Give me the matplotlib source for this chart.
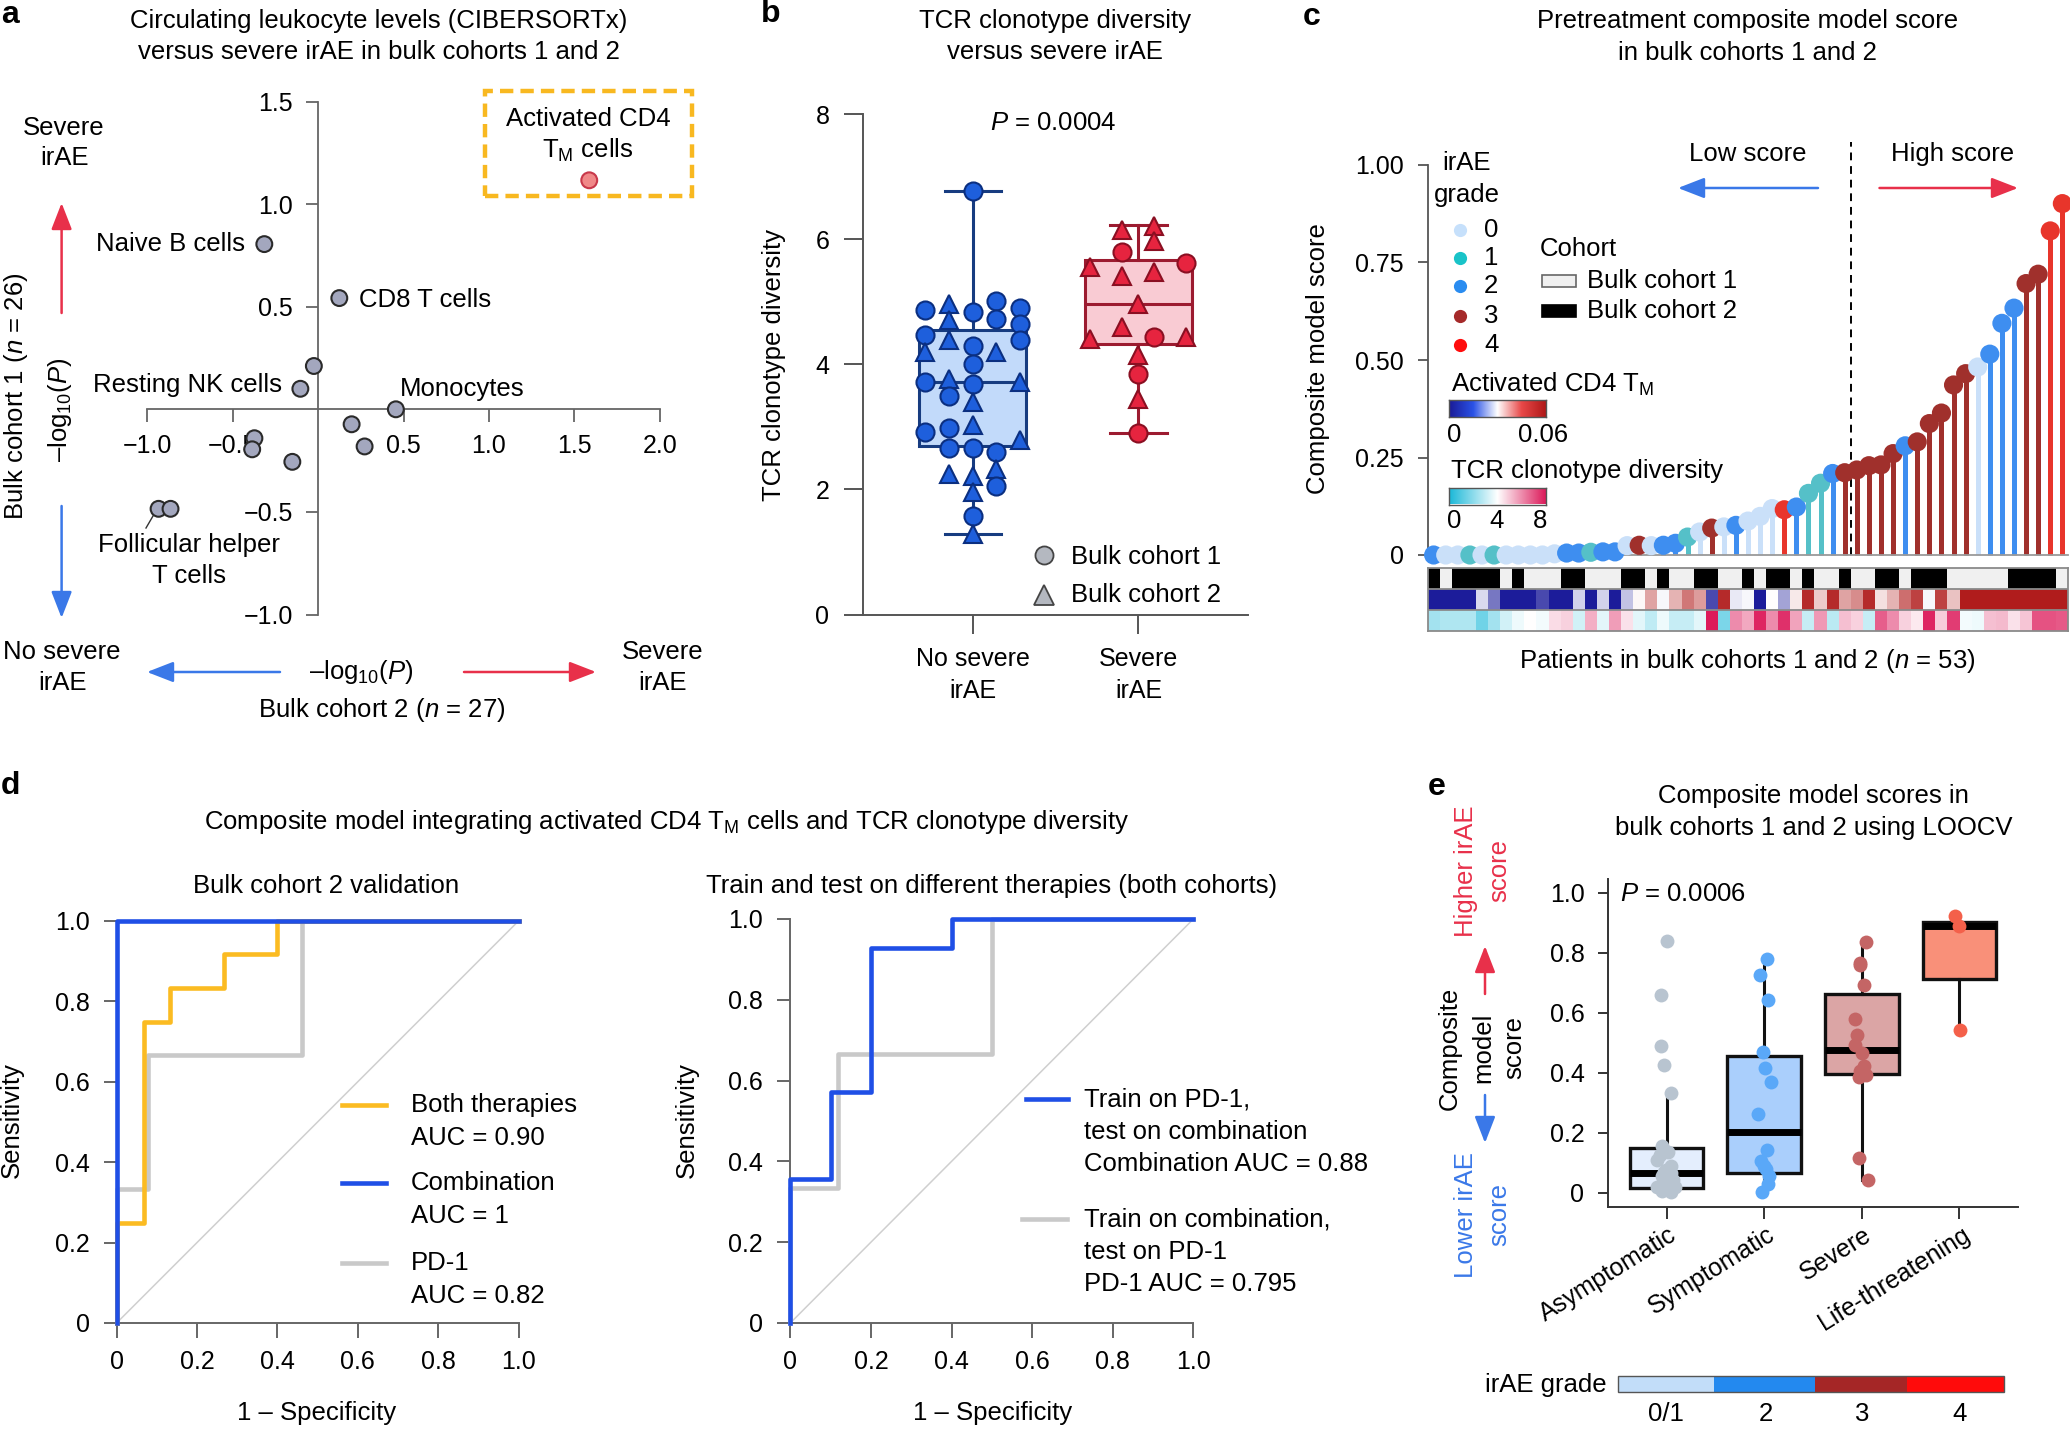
import numpy as np
import matplotlib
matplotlib.use('Agg')
import matplotlib.pyplot as plt
from matplotlib.transforms import Affine2D, ScaledTranslation
from matplotlib.patches import Rectangle, FancyArrowPatch
from matplotlib.lines import Line2D
from matplotlib.colors import ListedColormap, LinearSegmentedColormap

plt.rcParams['font.family'] = ['Liberation Sans', 'DejaVu Sans']
plt.rcParams['mathtext.fontset'] = 'custom'
plt.rcParams['mathtext.rm'] = 'Liberation Sans'
plt.rcParams['mathtext.it'] = 'Liberation Sans:italic'
plt.rcParams['mathtext.bf'] = 'Liberation Sans:bold'

# ---------------- DATA ----------------
# panel a
a_labels = ['Activated CD4 TM cells', 'Naive B cells', 'CD8 T cells', '', 'Resting NK cells', 'Monocytes',
            '', '', '', '', '', 'Follicular helper T cells', 'Follicular helper T cells']
a_cohort2 = [1.587, -0.315, 0.124, -0.025, -0.104, 0.455, 0.196, 0.272, -0.373, -0.386, -0.151, -0.934, -0.864]
a_cohort1 = [1.116, 0.805, 0.542, 0.211, 0.100, 0.0, -0.073, -0.181, -0.141, -0.195, -0.256, -0.485, -0.485]
a_xticks = [-1.0, -0.5, 0.5, 1.0, 1.5, 2.0]
a_yticks = [-1.0, -0.5, 0.5, 1.0, 1.5]

# panel b
b_groups = ['No severe\nirAE', 'Severe\nirAE']
b_nosev_vals = [6.77, 4.86, 4.97, 4.84, 5.01, 4.90, 4.70, 4.72, 4.64, 4.46, 4.39, 4.39, 4.29, 4.19, 4.19, 4.00,
                3.71, 3.76, 3.68, 3.71, 3.50, 3.39, 3.03, 2.92, 2.98, 2.79, 2.66, 2.66, 2.60, 2.25, 2.21, 2.33,
                2.05, 1.96, 1.58, 1.29]
b_nosev_cohort = [1, 1, 2, 1, 1, 1, 2, 1, 1, 1, 2, 1, 1, 2, 2, 1, 1, 2, 1, 2, 1, 2, 2, 1, 1, 2, 1, 1, 1, 2, 2, 2,
                  1, 2, 1, 2]
b_nosev_jit = [0, -0.29, -0.145, 0, 0.141, 0.288, -0.145, 0.141, 0.288, -0.29, -0.145, 0.288, 0, -0.29, 0.141, 0,
               -0.29, -0.145, 0, 0.288, -0.145, 0, 0, -0.29, -0.145, 0.288, -0.145, 0, 0.141, -0.145, 0, 0.141,
               0.141, 0, 0, 0]
b_sev_vals = [6.15, 6.21, 5.97, 5.80, 5.62, 5.56, 5.41, 5.48, 4.96, 4.59, 4.41, 4.43, 4.44, 4.15, 3.85, 3.44, 2.90]
b_sev_cohort = [2, 2, 2, 1, 1, 2, 2, 2, 2, 2, 2, 1, 2, 2, 1, 2, 1]
b_sev_jit = [-0.1, 0.096, 0.096, -0.1, 0.286, -0.29, -0.1, 0.096, 0, -0.1, -0.29, 0.096, 0.286, 0, 0, 0, 0]
b_q1 = [2.70, 4.33]
b_med = [3.71, 4.97]
b_q3 = [4.54, 5.67]
b_lo = [1.29, 2.90]
b_hi = [6.77, 6.22]

# panel c
c_score = [0.0, 0.0, 0.0, 0.0, 0.0, 0.0, 0.0, 0.0, 0.0, 0.0, 0.003, 0.005, 0.005, 0.007, 0.008, 0.008, 0.024,
           0.025, 0.024, 0.025, 0.03, 0.046, 0.059, 0.069, 0.072, 0.076, 0.087, 0.099, 0.119, 0.116, 0.123,
           0.158, 0.184, 0.209, 0.211, 0.218, 0.229, 0.231, 0.26, 0.28, 0.29, 0.337, 0.364, 0.436, 0.465,
           0.482, 0.515, 0.594, 0.633, 0.696, 0.72, 0.831, 0.901]
c_grade = [2, 0, 0, 1, 0, 1, 0, 0, 0, 0, 0, 2, 2, 1, 2, 2, 0, 3, 0, 2, 2, 1, 0, 3, 0, 2, 0, 0, 0, 4, 2, 1, 1, 2,
           3, 3, 3, 3, 3, 2, 3, 3, 3, 3, 3, 0, 2, 2, 2, 3, 3, 4, 4]
c_cohort = [2, 1, 2, 2, 2, 2, 1, 2, 1, 1, 1, 2, 2, 1, 1, 1, 2, 2, 1, 2, 1, 1, 2, 2, 1, 1, 2, 1, 2, 2, 1, 2, 1, 1,
            2, 1, 1, 2, 2, 1, 2, 2, 2, 1, 1, 1, 1, 1, 2, 2, 2, 2, 1]
c_cd4 = [0, 0, 0, 0, 0.025, 0.012, 0, 0, 0, 0.006, 0, 0, 0.024, 0, 0.024, 0, 0.022, 0.031, 0.042, 0.029, 0.040,
         0.048, 0.043, 0.006, 0.058, 0.027, 0.029, 0.0, 0.030, 0.018, 0.033, 0.058, 0.037, 0.058, 0.042, 0.045,
         0.058, 0.034, 0.040, 0.049, 0.055, 0.029, 0.055, 0.038, 0.06, 0.06, 0.06, 0.06, 0.06, 0.06, 0.06, 0.06,
         0.06]
c_tcr = [2.4, 2.6, 2.6, 2.6, 1.5, 2.4, 3.2, 3.7, 4.0, 3.8, 4.6, 4.8, 3.2, 5.4, 3.5, 5.7, 4.5, 3.5, 2.9, 3.7,
         3.0, 3.0, 3.5, 8.0, 1.7, 6.0, 5.5, 7.8, 6.0, 7.6, 5.6, 3.0, 5.8, 2.8, 5.1, 4.8, 3.0, 6.8, 6.0, 4.8,
         4.4, 7.8, 4.9, 7.4, 3.8, 3.7, 5.1, 5.2, 4.5, 5.0, 7.0, 7.0, 6.9]
c_yticks = [0, 0.25, 0.50, 0.75, 1.00]
c_yticklabels = ['0', '0.25', '0.50', '0.75', '1.00']

# panel d
d1_both_fpr = [0, 0, 0.067, 0.067, 0.133, 0.133, 0.267, 0.267, 0.4, 0.4, 1.0]
d1_both_tpr = [0, 0.25, 0.25, 0.75, 0.75, 0.833, 0.833, 0.917, 0.917, 1.0, 1.0]
d1_comb_fpr = [0, 0, 1.0]
d1_comb_tpr = [0, 1.0, 1.0]
d1_pd1_fpr = [0, 0, 0.077, 0.077, 0.462, 0.462, 1.0]
d1_pd1_tpr = [0, 0.333, 0.333, 0.667, 0.667, 1.0, 1.0]
d2_pd1train_fpr = [0, 0, 0.1, 0.1, 0.2, 0.2, 0.4, 0.4, 1.0]
d2_pd1train_tpr = [0, 0.357, 0.357, 0.571, 0.571, 0.929, 0.929, 1.0, 1.0]
d2_combtrain_fpr = [0, 0, 0.118, 0.118, 0.5, 0.5, 1.0]
d2_combtrain_tpr = [0, 0.333, 0.333, 0.667, 0.667, 1.0, 1.0]
d_ticks = [0, 0.2, 0.4, 0.6, 0.8, 1.0]
d_ticklabels = ['0', '0.2', '0.4', '0.6', '0.8', '1.0']

# panel e
e_groups = ['Asymptomatic', 'Symptomatic', 'Severe', 'Life-threatening']
e_asym = [0.839, 0.661, 0.491, 0.427, 0.334, 0.156, 0.128, 0.078, 0.067, 0.057, 0.043, 0.028, 0.014, 0.007,
          0.004, 0.02, 0.02, 0.035, 0.07, 0.09, 0.11, 0.135]
e_asym_jit = [0, -13, -13, -5, 11, -11, -15, -1, 9, -11, 14, -6, 4, -11, 9, -21, 19, 4, -6, 9, -21, 4]
e_symp = [0.78, 0.725, 0.644, 0.469, 0.415, 0.37, 0.263, 0.142, 0.107, 0.081, 0.057, 0.031, 0.004, 0.09]
e_symp_jit = [7, -10, 9, -2, 2, 15, -15, 7, -8, 5, 12, 9, -5, -1]
e_sev = [0.835, 0.768, 0.76, 0.694, 0.579, 0.526, 0.494, 0.465, 0.422, 0.408, 0.394, 0.388, 0.118, 0.043]
e_sev_jit = [10, -3, -5, 5, -15, -10, -15, 0, 5, -5, 10, -7, -7, 13]
e_life = [0.922, 0.889, 0.543]
e_life_jit = [-11, -1, 1]
e_q1 = [0.017, 0.068, 0.398, 0.714]
e_med = [0.068, 0.202, 0.478, 0.889]
e_q3 = [0.149, 0.458, 0.664, 0.903]
e_lo = [0.0, 0.004, 0.043, 0.543]
e_hi = [0.334, 0.78, 0.835, 0.903]
e_grade_labels = ['0/1', '2', '3', '4']
e_yticks = [0, 0.2, 0.4, 0.6, 0.8, 1.0]
e_yticklabels = ['0', '0.2', '0.4', '0.6', '0.8', '1.0']

# ---------------- FIGURE ----------------
W, H = 2070, 1429
FS = 18.5
TFS = 18
fig = plt.figure(figsize=(W / 100, H / 100), dpi=100)
PX = Affine2D().scale(1.0 / W, -1.0 / H).translate(0, 1) + fig.transFigure
RED = '#e8304a'
BLUE = '#3a78e8'
AXC = '#555555'


def ax_px(l, t, r, b):
    return fig.add_axes([l / W, 1 - b / H, (r - l) / W, (b - t) / H])


def txt(x, y, s, **kw):
    kw.setdefault('fontsize', FS)
    kw.setdefault('ha', 'center')
    kw.setdefault('va', 'center')
    return fig.text(x, y, s, transform=PX, **kw)


def arrow(x1, y1, x2, y2, color):
    fig.add_artist(FancyArrowPatch((x1, y1), (x2, y2), transform=PX,
                                   arrowstyle='-|>,head_length=0.9,head_width=0.35',
                                   mutation_scale=18, color=color, lw=1.8, shrinkA=0, shrinkB=0))


# panel labels
for lab, (x, y) in zip('abcde', [(1, 15), (761, 14), (1303, 17), (1, 786), (1428, 787)]):
    txt(x, y, lab, fontsize=23, fontweight='bold', ha='left')

# ================= Panel a =================
axA = ax_px(147.3, 101.5, 659.8, 614.5)
axA.set_xlim(-1, 2)
axA.set_ylim(-1, 1.5)
for s in ['top', 'right']:
    axA.spines[s].set_visible(False)
axA.spines['left'].set_position(('data', 0))
axA.spines['bottom'].set_position(('data', 0))
for s in ['left', 'bottom']:
    axA.spines[s].set_color('#666666')
    axA.spines[s].set_linewidth(1.3)
axA.set_xticks(a_xticks)
axA.set_xticklabels([f'{v:.1f}'.replace('-', '\u2212') for v in a_xticks])
axA.set_yticks(a_yticks)
axA.set_yticklabels([f'{v:.1f}'.replace('-', '\u2212') for v in a_yticks])
axA.tick_params(length=9, width=1.3, color='#666666', labelsize=TFS, pad=9)
acol = ['#f08888'] + ['#a3a7be'] * (len(a_cohort1) - 1)
aedge = ['#c8384a'] + ['#2a2a2a'] * (len(a_cohort1) - 1)
axA.scatter(a_cohort2, a_cohort1, s=130, c=acol, edgecolors=aedge, linewidths=1.5, zorder=4, clip_on=False)
axA.add_patch(Rectangle((0.977, 1.039), 1.213, 0.512, fill=False, ec='#f8b820', lw=3.2, ls=(0, (3, 1.6)),
                        clip_on=False, zorder=3))

txt(379, 21, 'Circulating leukocyte levels (CIBERSORTx)')
txt(379, 52, 'versus severe irAE in bulk cohorts 1 and 2')
txt(588, 119, 'Activated CD4')
txt(588, 150, 'T$_\\mathregular{M}$ cells')
txt(245.5, 244, 'Naive B cells', ha='right')
txt(359, 300, 'CD8 T cells', ha='left')
txt(282, 385, 'Resting NK cells', ha='right')
txt(400, 389, 'Monocytes', ha='left')
txt(189, 545, 'Follicular helper')
txt(189, 576, 'T cells')
fig.add_artist(Line2D([146, 153], [528, 516], transform=PX, color='#333333', lw=1))

txt(64, 128, 'Severe')
txt(64, 158, 'irAE')
arrow(61.6, 313, 61.6, 203, RED)
arrow(61.6, 506, 61.6, 618, BLUE)
txt(15.6, 396, 'Bulk cohort 1 ($n$ = 26)', rotation=90)
txt(60, 410, '\u2013log$_\\mathregular{10}$($P$)', rotation=90)
txt(62, 652, 'No severe')
txt(62, 683, 'irAE')
arrow(280, 672, 147, 672, BLUE)
txt(361, 672, '\u2013log$_\\mathregular{10}$($P$)')
arrow(464, 672, 596, 672, RED)
txt(663, 652, 'Severe')
txt(663, 683, 'irAE')
txt(382, 710, 'Bulk cohort 2 ($n$ = 27)')

# ================= Panel b =================
axB = ax_px(862.8, 114, 1247.5, 614.5)
for s in ['top', 'right']:
    axB.spines[s].set_visible(False)
for s in ['left', 'bottom']:
    axB.spines[s].set_color(AXC)
    axB.spines[s].set_linewidth(1.4)
bstats = [dict(med=b_med[i], q1=b_q1[i], q3=b_q3[i], whislo=b_lo[i], whishi=b_hi[i], fliers=[]) for i in range(2)]
bfill = ['#c2dafa', '#f9cbd3']
bedge = ['#173c80', '#9c1b30']
bp = axB.bxp(bstats, positions=[0, 1], widths=0.648, patch_artist=True, showfliers=False, capwidths=0.34,
             manage_ticks=False)
for i in range(2):
    bp['boxes'][i].set(facecolor=bfill[i], edgecolor=bedge[i], linewidth=2.2, zorder=1)
    bp['medians'][i].set(color=bedge[i], linewidth=2.2)
    for art in bp['whiskers'][2 * i:2 * i + 2] + bp['caps'][2 * i:2 * i + 2]:
        art.set(color=bedge[i], linewidth=2.2)
ptfill = ['#1e5fdc', '#e6243f']
ptedge = ['#0b2f80', '#8a0f22']
for gi, (vals, coh, jit) in enumerate([(b_nosev_vals, b_nosev_cohort, b_nosev_jit),
                                       (b_sev_vals, b_sev_cohort, b_sev_jit)]):
    for v, c, j in zip(vals, coh, jit):
        axB.plot(gi + j, v, marker='o' if c == 1 else '^', ms=13 if c == 1 else 13.5, mfc=ptfill[gi],
                 mec=ptedge[gi], mew=1.5, zorder=3, clip_on=False)
axB.set_xlim(-0.663, 1.658)
axB.set_ylim(0, 8)
axB.set_yticks([0, 2, 4, 6, 8])
axB.set_yticklabels(['0', '2', '4', '6', '8'])
axB.set_xticks([0, 1])
axB.set_xticklabels(b_groups, linespacing=1.4)
axB.tick_params(axis='y', length=14, width=1.4, color=AXC, labelsize=TFS, pad=10)
axB.tick_params(axis='x', length=13.5, width=1.4, color=AXC, labelsize=TFS, pad=10)
txt(1055, 21, 'TCR clonotype diversity')
txt(1055, 52, 'versus severe irAE')
txt(1053, 123, '$P$ = 0.0004')
txt(774, 365, 'TCR clonotype diversity', rotation=90)
fig.add_artist(Line2D([1044], [555], transform=PX, marker='o', ms=13, mfc='#b4b8c0', mec='#444444', mew=1.3))
fig.add_artist(Line2D([1044], [595], transform=PX, marker='^', ms=14, mfc='#b4b8c0', mec='#444444', mew=1.3))
txt(1071, 557, 'Bulk cohort 1', ha='left')
txt(1071, 595, 'Bulk cohort 2', ha='left')

# ================= Panel c =================
grade_col = {0: '#cae0f9', 1: '#55c0c8', 2: '#3e8ef0', 3: '#a0302c', 4: '#e8352b'}
axC = ax_px(1427.6, 141.6, 2068.4, 566.7)
axC.set_xlim(-0.5, 52.5)
axC.set_ylim(-0.03, 1.06)
for s in ['top', 'right']:
    axC.spines[s].set_visible(False)
axC.spines['left'].set_bounds(0, 1)
axC.spines['left'].set_color(AXC)
axC.spines['left'].set_linewidth(1.3)
axC.spines['bottom'].set_position(('data', 0))
axC.spines['bottom'].set_color('#9a9a9a')
axC.spines['bottom'].set_linewidth(1.3)
axC.set_xticks([])
axC.set_yticks(c_yticks)
axC.set_yticklabels(c_yticklabels)
axC.tick_params(axis='y', length=7, width=1.3, color=AXC, labelsize=TFS, pad=10)
xs = np.arange(len(c_score))
cols = [grade_col[g] for g in c_grade]
axC.vlines(xs, 0, c_score, colors=cols, lw=3.6, zorder=2)
axC.scatter(xs, c_score, s=190, c=cols, zorder=3, clip_on=False, linewidths=0)
axC.plot([34.5, 34.5], [0, 1.06], color='k', lw=1.4, ls=(0, (4, 3)), zorder=1)

axH = ax_px(1427.6, 568, 2068.4, 631)
coh_cmap = ListedColormap(['#f0f0f0', '#000000'])
cd4_cmap = LinearSegmentedColormap.from_list('cd4', ['#1c1c9a', '#ffffff', '#b01c1c'])
tcr_cmap = LinearSegmentedColormap.from_list('tcr', ['#1ab8d8', '#ffffff', '#dc1a5a'])
xe = np.arange(len(c_score) + 1) - 0.5
axH.pcolormesh(xe, [0, 1], np.array(c_cohort)[None, :], cmap=coh_cmap, vmin=1, vmax=2)
axH.pcolormesh(xe, [1, 2], np.array(c_cd4)[None, :], cmap=cd4_cmap, vmin=0, vmax=0.06)
axH.pcolormesh(xe, [2, 3], np.array(c_tcr)[None, :], cmap=tcr_cmap, vmin=0, vmax=8)
axH.set_xlim(-0.5, 52.5)
axH.set_ylim(3, 0)
axH.set_xticks([])
axH.set_yticks([])
for s in axH.spines.values():
    s.set_color('#8a8a8a')
    s.set_linewidth(1.3)
axH.axhline(1, color='#8a8a8a', lw=1.3)
axH.axhline(2, color='#8a8a8a', lw=1.3)

txt(1747.5, 21, 'Pretreatment composite model score')
txt(1747.5, 53, 'in bulk cohorts 1 and 2')
txt(1318, 359, 'Composite model score', rotation=90)
txt(1747.5, 661, 'Patients in bulk cohorts 1 and 2 ($n$ = 53)')
txt(1747.5, 154, 'Low score')
txt(1953, 154, 'High score')
arrow(1818, 188, 1678, 188, BLUE)
arrow(1879.5, 188, 2018, 188, RED)
txt(1467, 163, 'irAE')
txt(1467, 195, 'grade')
leg_grade_col = ['#c6e0fb', '#19c3c8', '#2a8cf0', '#a52a2a', '#ff0d0d']
for k, yy in enumerate([230, 258, 286, 316, 345]):
    fig.add_artist(Line2D([1460], [yy], transform=PX, marker='o', ms=9.5, mfc=leg_grade_col[k], mec='none'))
    txt(1484, yy, str(k), ha='left')
txt(1539.4, 249, 'Cohort', ha='left')
fig.add_artist(Rectangle((1542, 274.5), 34, 12, transform=PX, fc='#f0f0f0', ec='#666666', lw=1.2))
fig.add_artist(Rectangle((1542, 305), 34, 12, transform=PX, fc='#000000', ec='#000000', lw=1.2))
txt(1587, 281, 'Bulk cohort 1', ha='left')
txt(1587, 311, 'Bulk cohort 2', ha='left')
txt(1451, 384, 'Activated CD4 T$_\\mathregular{M}$', ha='left')
axcb1 = ax_px(1449, 400, 1545.5, 417)
axcb1.imshow(np.linspace(0, 1, 256)[None, :], cmap=LinearSegmentedColormap.from_list(
    'cd4leg', ['#1a1a96', '#2a52e6', '#ffffff', '#e84848', '#b01818']), aspect='auto')
axcb1.set_xticks([]); axcb1.set_yticks([])
for s in axcb1.spines.values():
    s.set_color('#555555'); s.set_linewidth(1)
txt(1454, 435, '0')
txt(1543.5, 435, '0.06')
txt(1451, 471, 'TCR clonotype diversity', ha='left')
axcb2 = ax_px(1449, 487.5, 1545.5, 504.5)
axcb2.imshow(np.linspace(0, 1, 256)[None, :], cmap=tcr_cmap, aspect='auto')
axcb2.set_xticks([]); axcb2.set_yticks([])
for s in axcb2.spines.values():
    s.set_color('#555555'); s.set_linewidth(1)
txt(1454, 521, '0')
txt(1497, 521, '4')
txt(1540, 521, '8')

# ================= Panel d =================
txt(667, 822, 'Composite model integrating activated CD4 T$_\\mathregular{M}$ cells and TCR clonotype diversity')


def roc_axes(l, t, r, b):
    ax = ax_px(l, t, r, b)
    ax.set_xlim(0, 1)
    ax.set_ylim(0, 1)
    for s in ['top', 'right']:
        ax.spines[s].set_visible(False)
    for s in ['left', 'bottom']:
        ax.spines[s].set_color('#666666')
        ax.spines[s].set_linewidth(1.4)
    ax.set_xticks(d_ticks)
    ax.set_xticklabels(d_ticklabels)
    ax.set_yticks(d_ticks)
    ax.set_yticklabels(d_ticklabels)
    ax.tick_params(axis='y', length=9.5, width=1.4, color='#666666', labelsize=TFS, pad=10)
    ax.tick_params(axis='x', length=10.5, width=1.4, color='#666666', labelsize=TFS, pad=9)
    ax.plot([0, 1], [0, 1], color='#cfcfcf', lw=1.1, zorder=1)
    return ax


axD1 = roc_axes(116.6, 921, 518.5, 1323)
axD1.plot(d1_pd1_fpr, d1_pd1_tpr, color='#c9c9c9', lw=3.3, clip_on=False, zorder=2)
axD1.plot(d1_both_fpr, d1_both_tpr, color='#fbbb22', lw=3.3, clip_on=False, zorder=3)
axD1.plot(d1_comb_fpr, d1_comb_tpr, color='#1f4fe6', lw=3.3, clip_on=False, zorder=4)
txt(325.7, 886, 'Bulk cohort 2 validation')
txt(317, 1413, '1 \u2013 Specificity')
txt(12, 1120, 'Sensitivity', rotation=90)
for (lc, yl, t1, t2) in [('#fbbb22', 1105, 'Both therapies', 'AUC = 0.90'),
                         ('#1f4fe6', 1183, 'Combination', 'AUC = 1'),
                         ('#c9c9c9', 1263, 'PD-1', 'AUC = 0.82')]:
    fig.add_artist(Line2D([342, 386], [yl, yl], transform=PX, color=lc, lw=3.3))
    txt(411, yl, t1, ha='left')
    txt(411, yl + 33, t2, ha='left')

axD2 = roc_axes(790.3, 919, 1193.4, 1323)
axD2.plot(d2_combtrain_fpr, d2_combtrain_tpr, color='#c9c9c9', lw=3.3, clip_on=False, zorder=2)
axD2.plot(d2_pd1train_fpr, d2_pd1train_tpr, color='#1f4fe6', lw=3.3, clip_on=False, zorder=3)
txt(991.6, 886, 'Train and test on different therapies (both cohorts)')
txt(992.5, 1413, '1 \u2013 Specificity')
txt(687, 1120, 'Sensitivity', rotation=90)
fig.add_artist(Line2D([1026, 1068], [1099, 1099], transform=PX, color='#1f4fe6', lw=3.3))
for k, s in enumerate(['Train on PD-1,', 'test on combination', 'Combination AUC = 0.88']):
    txt(1084, 1100 + 32 * k, s, ha='left')
fig.add_artist(Line2D([1022, 1067], [1219, 1219], transform=PX, color='#c9c9c9', lw=3.3))
for k, s in enumerate(['Train on combination,', 'test on PD-1', 'PD-1 AUC = 0.795']):
    txt(1084, 1220 + 32 * k, s, ha='left')

# ================= Panel e =================
axE = ax_px(1608, 879.5, 2018, 1207)
for s in ['top', 'right']:
    axE.spines[s].set_visible(False)
for s in ['left', 'bottom']:
    axE.spines[s].set_color('#333333')
    axE.spines[s].set_linewidth(1.4)
estats = [dict(med=e_med[i], q1=e_q1[i], q3=e_q3[i], whislo=e_lo[i], whishi=e_hi[i], fliers=[]) for i in range(4)]
efill = ['#e4eefd', '#aacffc', '#dba5a5', '#f99079']
ep = axE.bxp(estats, positions=[0, 1, 2, 3], widths=0.753, patch_artist=True, showfliers=False, showcaps=False,
             manage_ticks=False)
for i in range(4):
    ep['boxes'][i].set(facecolor=efill[i], edgecolor='#111111', linewidth=2.4, zorder=1)
    ep['medians'][i].set(color='#000000', linewidth=5, zorder=2)
    for art in ep['whiskers'][2 * i:2 * i + 2]:
        art.set(color='#111111', linewidth=2.2, zorder=1)
ecol = ['#b8c4d0', '#5aa8f8', '#c46565', '#f4604a']
for gi, (vals, jit) in enumerate([(e_asym, e_asym_jit), (e_symp, e_symp_jit), (e_sev, e_sev_jit),
                                  (e_life, e_life_jit)]):
    axE.scatter(gi + np.array(jit) / 221.7, vals, s=100, c=ecol[gi], zorder=3, linewidths=0, clip_on=False)
axE.set_xlim(-0.6, 3.6)
axE.set_ylim(-0.047, 1.045)
axE.set_yticks(e_yticks)
axE.set_yticklabels(e_yticklabels)
axE.set_xticks([0, 1, 2, 3])
axE.tick_params(axis='y', length=7, width=1.4, color='#333333', labelsize=TFS, pad=10)
axE.tick_params(axis='x', length=8.5, width=1.4, color='#333333', labelsize=TFS, pad=10)
axE.set_xticklabels(e_groups, rotation=32, ha='right', va='center', rotation_mode='anchor')
shift = ScaledTranslation(8 / 100, 0, fig.dpi_scale_trans)
for lbl in axE.get_xticklabels():
    lbl.set_transform(lbl.get_transform() + shift)
txt(1620, 894, '$P$ = 0.0006', ha='left')
txt(1813.5, 796, 'Composite model scores in')
txt(1813.5, 828, 'bulk cohorts 1 and 2 using LOOCV')
txt(1450, 1048, 'Composite', rotation=90)
txt(1483, 1048, 'model', rotation=90)
txt(1514, 1048, 'score', rotation=90)
arrow(1485, 994, 1485, 946, RED)
arrow(1485, 1095, 1485, 1143, BLUE)
txt(1466, 871, 'Higher irAE', rotation=90, color=RED)
txt(1499, 871, 'score', rotation=90, color=RED)
txt(1466, 1215, 'Lower irAE', rotation=90, color=BLUE)
txt(1499, 1215, 'score', rotation=90, color=BLUE)
seg = [1617.7, 1713.6, 1814.9, 1906.9, 2004.1]
segc = ['#c2ddf9', '#2389ef', '#a52626', '#ff0b0b']
for k in range(4):
    fig.add_artist(Rectangle((seg[k], 1375.6), seg[k + 1] - seg[k], 16.7, transform=PX, fc=segc[k], ec='none'))
fig.add_artist(Rectangle((seg[0], 1375.6), seg[-1] - seg[0], 16.7, transform=PX, fill=False, ec='#555555', lw=1))
txt(1606.7, 1385, 'irAE grade', ha='right')
for lab, xx in zip(e_grade_labels, [1666, 1766, 1862, 1960]):
    txt(xx, 1414, lab)

fig.savefig('out.png', dpi=100)
